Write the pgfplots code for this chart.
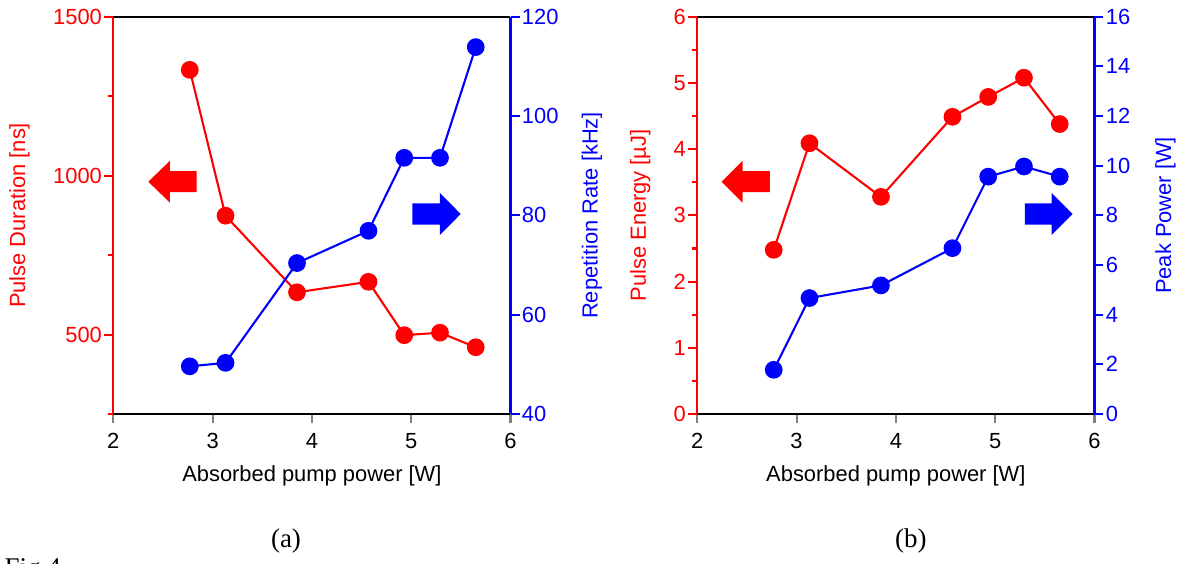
\documentclass[border=0pt]{standalone}
\usepackage{fontspec}
\setmainfont{Liberation Sans}
\newfontfamily\tnr{Liberation Serif}
\usepackage{pgfplots}
\pgfplotsset{compat=1.18}

\definecolor{pred}{RGB}{255,0,0}
\definecolor{pblue}{RGB}{0,0,255}

\newcommand{\lblfont}{\fontsize{7.3}{8.5}\selectfont}

\pgfplotsset{
  dual/.style={
    scale only axis,
    width=132.4pt, height=132.4pt,
    xmin=2, xmax=6, xtick={2,3,4,5,6},
    tick align=outside,
    major tick length=3pt, minor tick length=1.7pt,
    tick style={line width=0.7pt},
    /pgf/number format/assume math mode=true,
    /pgf/number format/1000 sep={},
    tick label style={font=\lblfont},
    yticklabel style={inner sep=0.6pt},
    every axis plot/.append style={line width=0.7pt, mark=*, mark size=2.6pt},
  },
  leftax/.style={
    dual,
    axis x line*=box, xtick pos=bottom,
    axis y line*=left,
    x axis line style={-, black, line width=0.7pt},
    y axis line style={-, pred, line width=0.7pt},
    ytick style={pred}, yticklabel style={pred},
    xlabel={Absorbed pump power [W]},
    every axis x label/.style={at={(axis description cs:0.5,-0.156)}, anchor=center, font=\lblfont},
  },
  rightax/.style={
    dual,
    axis x line=none,
    axis y line*=right,
    y axis line style={-, pblue, line width=0.7pt},
    ytick style={pblue}, yticklabel style={pblue},
  },
}

\begin{document}
\begin{tikzpicture}
\useasboundingbox (0,0) rectangle (394.67pt,187.67pt);

% panel (a)
\begin{axis}[leftax, at={(37.77pt,49.67pt)}, anchor=south west,
    ymin=250, ymax=1500, ytick={500,1000,1500}, minor ytick={250,750,1250},
    ylabel={\textcolor{pred}{Pulse Duration [ns]}},
    every axis y label/.style={at={(axis description cs:-0.236,0.5)}, rotate=90, anchor=center, font=\lblfont}]
  \addplot[pred] coordinates {
    (2.77,1333) (3.13,874) (3.85,633) (4.57,666) (4.93,498) (5.29,506) (5.65,460)
  };
\end{axis}
\begin{axis}[rightax, at={(37.77pt,49.67pt)}, anchor=south west,
    ymin=40, ymax=120, ytick={40,60,80,100,120},
    ylabel={\textcolor{pblue}{Repetition Rate [kHz]}},
    every axis y label/.style={at={(axis description cs:1.205,0.5)}, rotate=90, anchor=center, font=\lblfont}]
  \addplot[pblue] coordinates {
    (2.77,49.6) (3.13,50.3) (3.85,70.4) (4.57,76.9) (4.93,91.6) (5.29,91.6) (5.65,113.9)
  };
\end{axis}

% panel (b)
\begin{axis}[leftax, at={(232.43pt,49.67pt)}, anchor=south west,
    ymin=0, ymax=6, ytick={0,1,2,3,4,5,6}, minor ytick={0.5,1.5,2.5,3.5,4.5,5.5},
    ylabel={\textcolor{pred}{Pulse Energy [µJ]}},
    every axis y label/.style={at={(axis description cs:-0.144,0.5)}, rotate=90, anchor=center, font=\lblfont}]
  \addplot[pred] coordinates {
    (2.77,2.48) (3.13,4.09) (3.85,3.28) (4.57,4.49) (4.93,4.79) (5.29,5.08) (5.65,4.38)
  };
\end{axis}
\begin{axis}[rightax, at={(232.43pt,49.67pt)}, anchor=south west,
    ymin=0, ymax=16, ytick={0,2,4,6,8,10,12,14,16},
    ylabel={\textcolor{pblue}{Peak Power [W]}},
    every axis y label/.style={at={(axis description cs:1.179,0.5)}, rotate=90, anchor=center, font=\lblfont}]
  \addplot[pblue] coordinates {
    (2.77,1.78) (3.13,4.67) (3.85,5.18) (4.57,6.68) (4.93,9.56) (5.29,9.97) (5.65,9.56)
  };
\end{axis}

% direction arrows (pixel units of the reference)
\begin{scope}[x=0.33333pt, y=0.33333pt]
  \fill[pred] (148.3,381.3) -- (170,402.3) -- (170,391.8) -- (196.7,391.8)
    -- (196.7,370.8) -- (170,370.8) -- (170,360.3) -- cycle;
  \fill[pblue] (460.7,349) -- (440,370) -- (440,359.7) -- (412.3,359.7)
    -- (412.3,338.3) -- (440,338.3) -- (440,328) -- cycle;
  \fill[pred] (721.7,381.3) -- (742.7,402.3) -- (742.7,391.8) -- (770,391.8)
    -- (770,370.8) -- (742.7,370.8) -- (742.7,360.3) -- cycle;
  \fill[pblue] (1072.7,349) -- (1051.7,370) -- (1051.7,359.7) -- (1025,359.7)
    -- (1025,338.3) -- (1051.7,338.3) -- (1051.7,328) -- cycle;

  \node[font=\tnr\fontsize{9}{10}\selectfont] at (286,22) {(a)};
  \node[font=\tnr\fontsize{9}{10}\selectfont] at (911,22) {(b)};
  \node[font=\tnr\fontsize{9}{10}\selectfont, anchor=north west, inner sep=0pt] at (4,5) {Fig.4};
\end{scope}
\end{tikzpicture}
\end{document}
